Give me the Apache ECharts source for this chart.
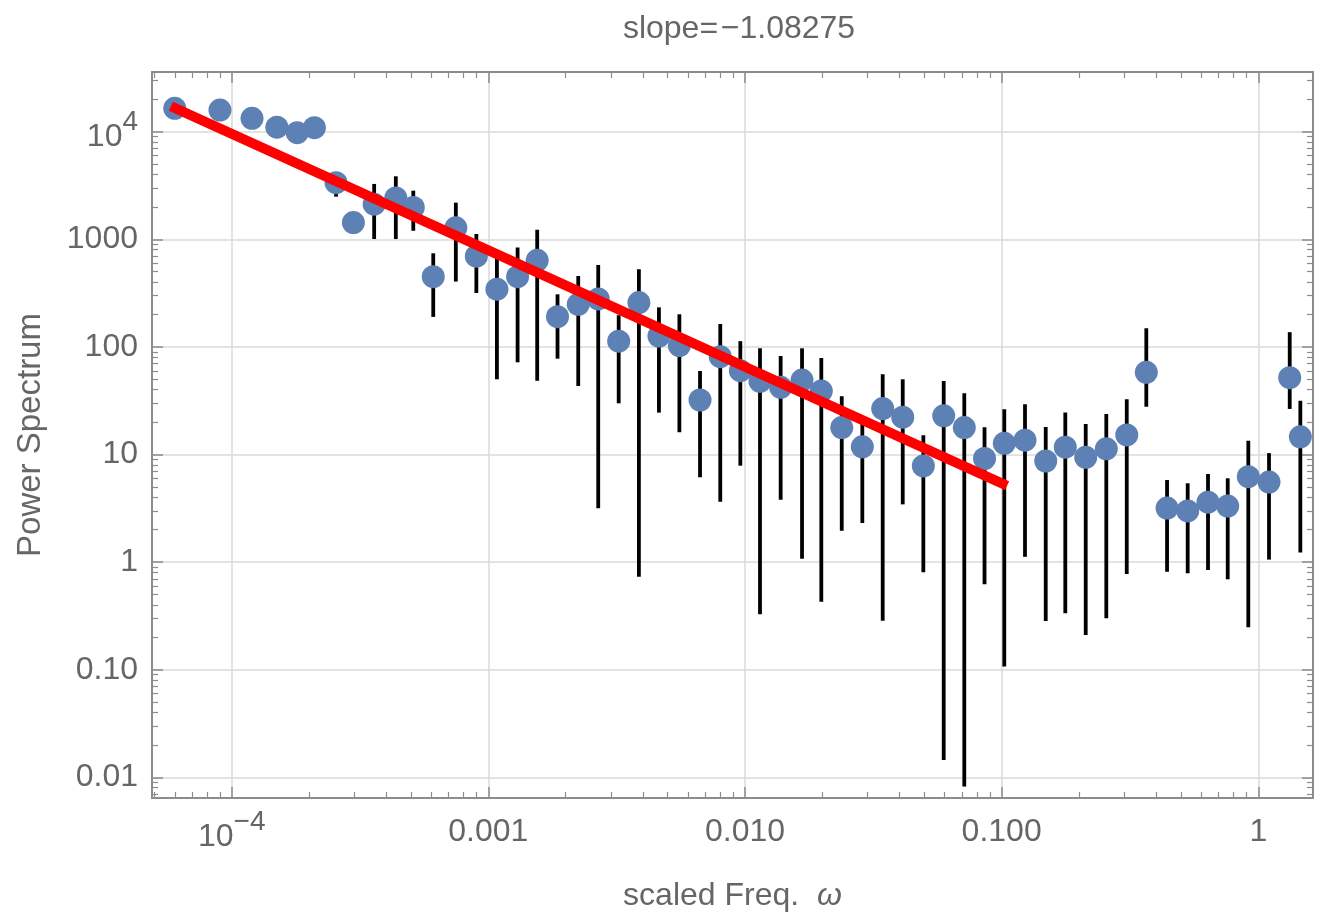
<!DOCTYPE html>
<html>
<head>
<meta charset="utf-8">
<title>Power spectrum</title>
<script src="https://cdn.jsdelivr.net/npm/echarts@6/dist/echarts.min.js"></script>
<style>
  html, body { margin: 0; padding: 0; background: #ffffff; }
  #chart { width: 1326px; height: 915px; }
</style>
</head>
<body>
<div id="chart"></div>
<script>
// Binned power spectrum: bin frequency, power, and error-bar ends (null = no bar)
const freq = [
  6.0e-5, 9.0e-5, 1.2e-4, 1.5e-4, 1.8e-4, 2.1e-4, 2.55e-4, 2.98e-4, 3.59e-4, 4.36e-4,
  5.10e-4, 6.10e-4, 7.47e-4, 8.98e-4, 1.08e-3, 1.30e-3, 1.55e-3, 1.86e-3, 2.24e-3, 2.68e-3,
  3.22e-3, 3.86e-3, 4.62e-3, 5.55e-3, 6.68e-3, 8.01e-3, 9.59e-3, 0.01144, 0.01377, 0.01668,
  0.01983, 0.02382, 0.02865, 0.0344, 0.04117, 0.04953, 0.05946, 0.07152, 0.08576, 0.1024,
  0.1233, 0.1485, 0.1770, 0.2126, 0.2557, 0.3072, 0.3661, 0.441, 0.5307, 0.6368,
  0.760, 0.9142, 1.1008, 1.3255, 1.458
];
const power = [
  16500, 15900, 13300, 11000, 9790, 10900, 3360, 1430, 2120, 2420,
  1980, 449, 1280, 697, 344, 449, 637, 191, 249, 279,
  113, 258, 126, 103, 32.1, 81.1, 60.1, 47.9, 42.1, 49.2,
  38.9, 17.8, 11.8, 26.7, 22.2, 7.82, 22.9, 17.8, 9.18, 12.7,
  13.6, 8.70, 11.7, 9.42, 11.3, 15.2, 58.0, 3.18, 2.99, 3.60,
  3.32, 6.22, 5.55, 51.7, 14.6
];
const errLow = [
  null, null, null, null, null, null, 2490, null, 1006, 1006,
  1200, 190, 405, 317, 50, 71.9, 48.5, 77.7, 43.3, 3.16,
  29.9, 0.731, 24.5, 16.1, 6.14, 3.64, 7.87, 0.327, 3.80, 1.075,
  0.429, 1.96, 2.31, 0.285, 3.44, 0.804, 0.0145, 0.0082, 0.622, 0.107,
  1.12, 0.284, 0.334, 0.21, 0.300, 0.775, 27.8, 0.814, 0.787, 0.845,
  0.692, 0.248, 1.055, 26.5, 1.23
];
const errHigh = [
  null, null, null, null, null, null, 4230, null, 3270, 3850,
  2830, 741, 2190, 1120, 685, 839, 1225, 308, 456, 577,
  197, 526, 233, 201, 59.7, 163, 113, 97.0, 82.3, 97.0,
  78.8, 34.7, 20.0, 55.7, 50.0, 15.1, 48.2, 37.0, 17.9, 26.3,
  29.3, 18.0, 24.5, 19.2, 23.8, 32.6, 149, 5.79, 5.40, 6.59,
  6.01, 13.4, 10.3, 137, 31.6
];

// Power-law fit: log10(P) = fitLogIntercept + fitSlope * log10(omega)
const fitSlope = -1.08275;
const fitLogIntercept = -0.35;
const fitRange = [5.8e-5, 0.105];

// Decade tick labels
const xTickExps = [-4, -3, -2, -1, 0];
const xTickTexts = ['{b|10}{s|\u22124}', '0.001', '0.010', '0.100', '1'];
const yTickExps = [4, 3, 2, 1, 0, -1, -2];
const yTickTexts = ['{b|10}{s|4}', '1000', '100', '10', '1', '0.10', '0.01'];

const titleText = 'slope=\u200a\u22121.08275';
const xName = 'scaled Freq.  ';
const xNameSymbol = '\u03c9';
const yName = 'Power Spectrum';

// ---- styling ----
const FONT = '"Liberation Sans", Arial, Helvetica, sans-serif';
const TEXT = '#666666';
const FRAME = '#8c8c8c';
const GRID = '#dadada';
const xMin = Math.pow(10, -4.3105), xMax = Math.pow(10, 0.2131);
const yMin = Math.pow(10, -2.1924), yMax = Math.pow(10, 4.5548);

const supRich = {
  b: { fontSize: 32, color: TEXT, fontFamily: FONT, padding: [10, 0, 0, 0] },
  s: { fontSize: 28, color: TEXT, fontFamily: FONT, padding: [0, 0, 19, 0] }
};

function decadeLabel(exps, texts) {
  return function (v) {
    const e = Math.log10(v);
    const r = Math.round(e);
    if (Math.abs(e - r) > 1e-6) return '';
    const i = exps.indexOf(r);
    return i < 0 ? '' : texts[i];
  };
}

function frameAxis(min, max, position, extra) {
  return Object.assign({
    type: 'log',
    logBase: 10,
    min: min,
    max: max,
    position: position,
    splitNumber: 5,
    axisLine: { show: true, onZero: false, lineStyle: { color: FRAME, width: 2 } },
    axisTick: { show: true, inside: true, length: 11, lineStyle: { color: FRAME, width: 1.5 } },
    minorTick: { show: true, splitNumber: 9, length: 6, lineStyle: { color: FRAME, width: 1.2 } },
    splitLine: { show: false },
    minorSplitLine: { show: false },
    axisLabel: { show: false }
  }, extra || {});
}

const barData = [];
freq.forEach(function (f, i) {
  if (errLow[i] != null && errHigh[i] != null) barData.push([f, errLow[i], errHigh[i]]);
});
const pointData = freq.map(function (f, i) { return [f, power[i]]; });
const fitData = fitRange.map(function (w) {
  return [w, Math.pow(10, fitLogIntercept + fitSlope * Math.log10(w))];
});

const chart = echarts.init(document.getElementById('chart'), null, { renderer: 'canvas' });
chart.setOption({
  animation: false,
  backgroundColor: '#ffffff',
  title: {
    text: titleText,
    left: 734,
    top: 8,
    textAlign: 'center',
    textStyle: { fontSize: 32, fontWeight: 'normal', color: TEXT, fontFamily: FONT }
  },
  grid: { left: 152, top: 72, right: 13, bottom: 117, containLabel: false, outerBoundsMode: 'none' },
  xAxis: [
    frameAxis(xMin, xMax, 'bottom', {
      splitLine: { show: true, lineStyle: { color: GRID, width: 1.5 } },
      axisLabel: {
        show: true, interval: 0, margin: 34, verticalAlign: 'middle',
        fontSize: 32, color: TEXT, fontFamily: FONT,
        showMinLabel: false, showMaxLabel: false,
        formatter: decadeLabel(xTickExps, xTickTexts), rich: supRich
      },
      name: '{n|' + xName + '}{w|' + xNameSymbol + '}',
      nameLocation: 'middle',
      nameGap: 82,
      nameTextStyle: {
        rich: {
          n: { fontSize: 32, color: TEXT, fontFamily: FONT },
          w: { fontSize: 32, color: TEXT, fontFamily: FONT, fontStyle: 'italic' }
        }
      }
    }),
    frameAxis(xMin, xMax, 'top')
  ],
  yAxis: [
    frameAxis(yMin, yMax, 'left', {
      splitLine: { show: true, lineStyle: { color: GRID, width: 1.5 } },
      axisLabel: {
        show: true, interval: 0, margin: 14,
        fontSize: 32, color: TEXT, fontFamily: FONT,
        showMinLabel: false, showMaxLabel: false,
        formatter: decadeLabel(yTickExps, yTickTexts), rich: supRich
      },
      name: yName,
      nameLocation: 'middle',
      nameGap: 105,
      nameRotate: 90,
      nameTextStyle: { fontSize: 33, color: TEXT, fontFamily: FONT }
    }),
    frameAxis(yMin, yMax, 'right')
  ],
  series: [
    {
      type: 'custom',
      name: 'error',
      xAxisIndex: 0,
      yAxisIndex: 0,
      data: barData,
      encode: { x: 0, y: [1, 2] },
      silent: true,
      z: 2,
      renderItem: function (params, api) {
        const x = api.value(0);
        const p1 = api.coord([x, api.value(1)]);
        const p2 = api.coord([x, api.value(2)]);
        return {
          type: 'line',
          shape: { x1: p1[0], y1: p1[1], x2: p2[0], y2: p2[1] },
          style: { stroke: '#000000', lineWidth: 3.8 }
        };
      }
    },
    {
      type: 'scatter',
      name: 'power',
      xAxisIndex: 0,
      yAxisIndex: 0,
      data: pointData,
      symbol: 'circle',
      symbolSize: 23,
      itemStyle: { color: '#5e81b5', opacity: 1 },
      z: 3
    },
    {
      type: 'line',
      name: 'fit',
      xAxisIndex: 0,
      yAxisIndex: 0,
      data: fitData,
      showSymbol: false,
      symbol: 'none',
      lineStyle: { color: '#ff0000', width: 10, cap: 'butt' },
      z: 4
    }
  ]
});
</script>
</body>
</html>
